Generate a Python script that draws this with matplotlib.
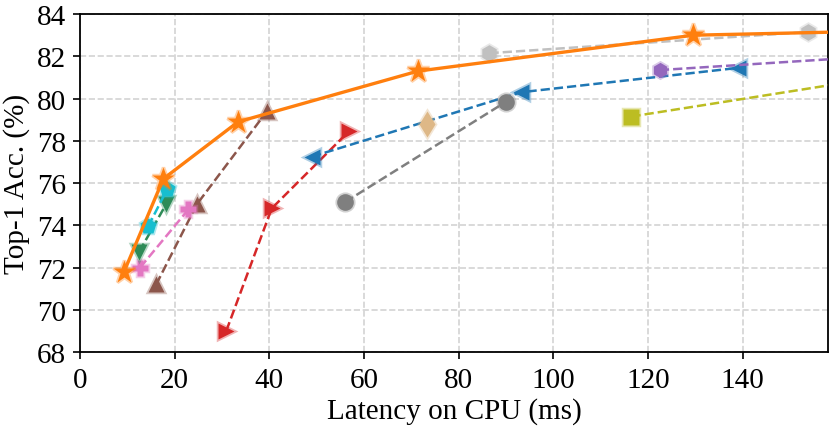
import matplotlib.pyplot as plt
from matplotlib.colors import to_rgba

plt.rcParams['font.family'] = ['Liberation Serif', 'DejaVu Serif']
plt.rcParams['font.size'] = 21

# (latency ms, top-1 acc) per model family
red_x = [30.9, 40.5, 56.8]
red_y = [69.0, 74.8, 78.45]
brown_x = [16.1, 24.7, 39.5]
brown_y = [71.2, 75.0, 79.4]
pink_x = [12.7, 22.9]
pink_y = [72.0, 74.75]
green_x = [12.5, 18.2]
green_y = [72.75, 75.0]
cyan_x = [14.4, 18.4]
cyan_y = [73.95, 75.7]
blue_x = [49.0, 93.2, 138.9]
blue_y = [77.25, 80.3, 81.45]
gray_x = [56.0, 90.0]
gray_y = [75.1, 79.85]
tan_x = [73.3]
tan_y = [78.8]
silver_x = [86.5, 153.7]
silver_y = [82.15, 83.15]
purple_x = [122.5, 210]
purple_y = [81.35, 82.6]
olive_x = [116.5, 180]
olive_y = [79.15, 81.4]
ours_x = [9.3, 17.6, 33.4, 71.4, 129.6, 190]
ours_y = [71.8, 76.2, 78.9, 81.3, 83.0, 83.3]

series = [
    (red_x, red_y, 'tab:red', '>', 12),
    (brown_x, brown_y, 'tab:brown', '^', 12),
    (pink_x, pink_y, 'tab:pink', 'P', 12),
    (green_x, green_y, 'seagreen', 'v', 12),
    (cyan_x, cyan_y, 'tab:cyan', 'p', 12),
    (blue_x, blue_y, 'tab:blue', '<', 12),
    (gray_x, gray_y, 'tab:gray', 'o', 12),
    (tan_x, tan_y, 'burlywood', 'd', 13),
    (silver_x, silver_y, 'silver', 'h', 12),
    (purple_x, purple_y, 'tab:purple', 'h', 11),
    (olive_x, olive_y, 'tab:olive', 's', 11),
]

fig = plt.figure(figsize=(8.31, 4.31), dpi=100)
ax = fig.add_axes([0.0963, 0.181, 0.9, 0.784])

for xs, ys, c, m, ms in series:
    ax.plot(xs, ys, '--', color=c, lw=1.8, marker=m, ms=ms,
            mfc=c, mec=to_rgba(c, 0.35), mew=2.5, zorder=3)

ax.plot(ours_x, ours_y, '-', color='tab:orange', lw=2.4, marker='*', ms=17,
        mfc='tab:orange', mec=to_rgba('tab:orange', 0.35), mew=2.5, zorder=4)

ax.set_xlim(0, 158)
ax.set_ylim(68, 84)
ax.set_xticks(range(0, 141, 20))
ax.set_yticks(range(68, 85, 2))
ax.tick_params(length=5, width=1.2, pad=5)
ax.tick_params(axis='x', pad=6)
for s in ax.spines.values():
    s.set_linewidth(1.3)
ax.grid(True, ls='--', color='#d3d3d3', lw=1.2)
ax.set_axisbelow(True)
ax.set_xlabel('Latency on CPU (ms)', labelpad=3)
ax.set_ylabel('Top-1 Acc. (%)', labelpad=5)

fig.savefig('out.png')
